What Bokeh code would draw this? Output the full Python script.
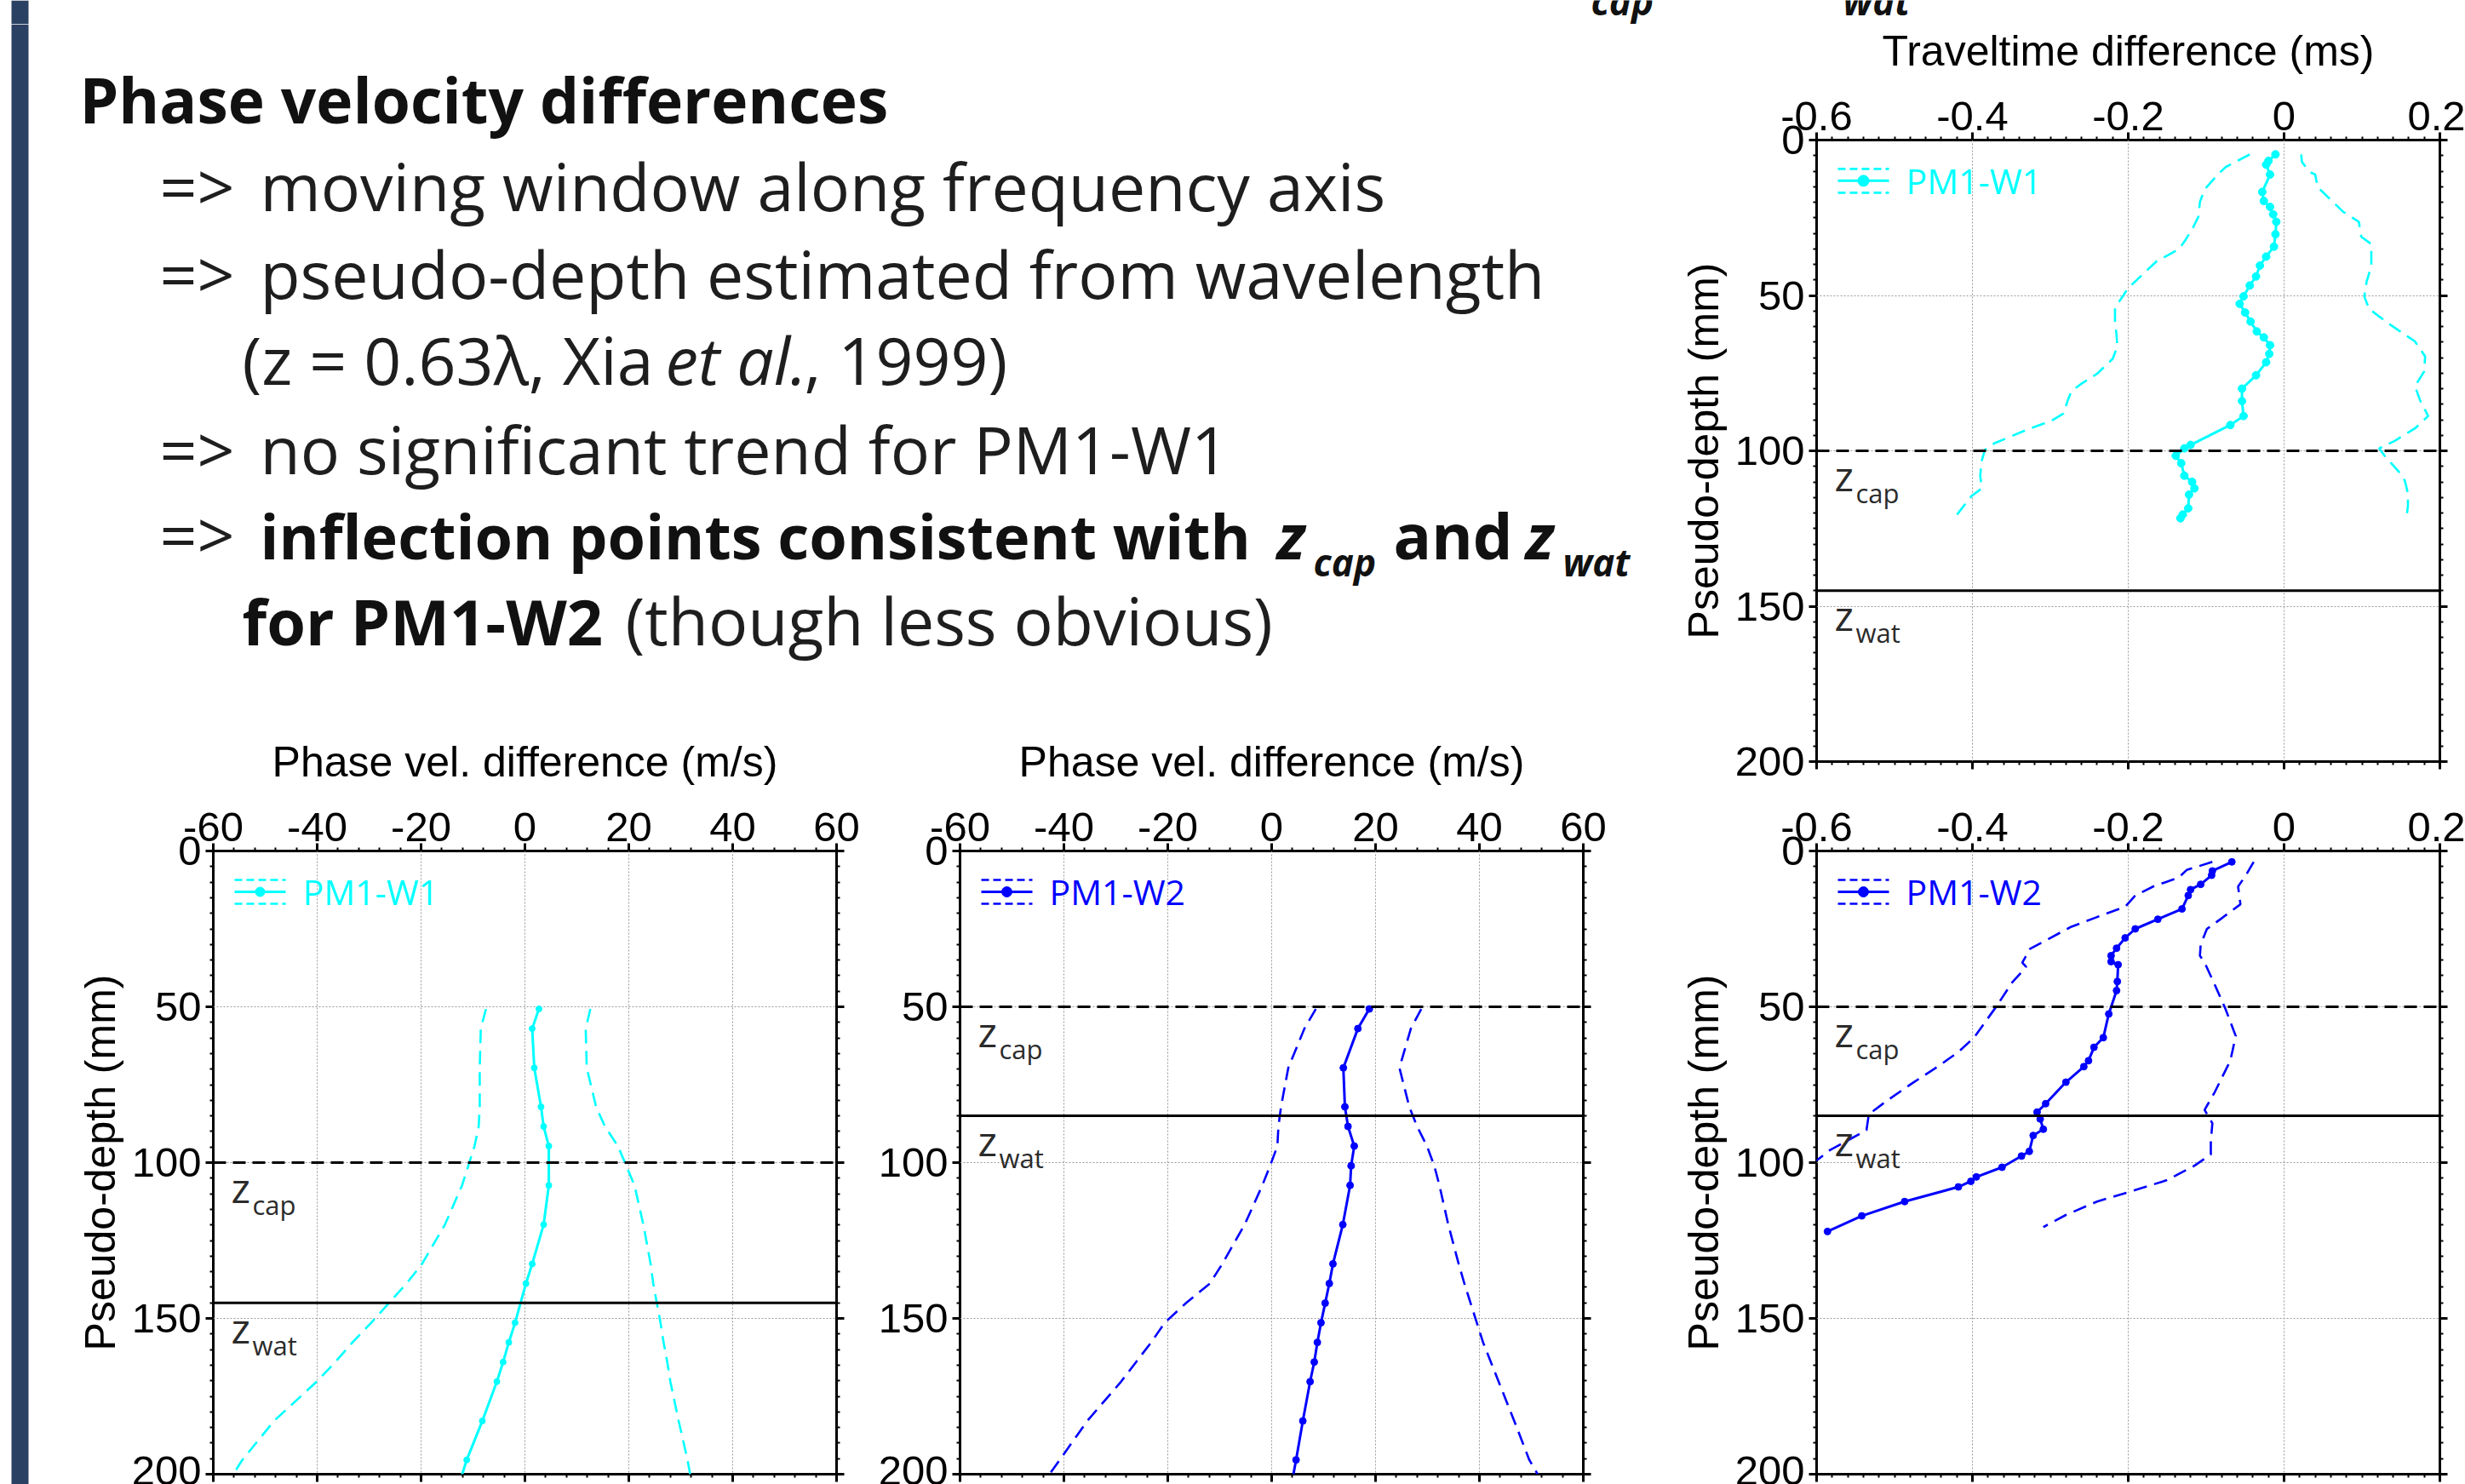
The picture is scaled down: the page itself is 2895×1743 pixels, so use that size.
import numpy as np
from bokeh.plotting import figure
from bokeh.models import Range1d, LinearAxis, FixedTicker, Label, Span
from bokeh.layouts import row, column
from bokeh.embed import file_html
from bokeh.resources import INLINE

# ---------------- data ----------------
# Phase velocity difference (m/s) versus pseudo-depth (mm)
pv_w1_depth = [50.7, 57.0, 69.6, 82.1, 88.4, 94.7, 107.3, 119.9, 132.5, 138.8, 151.4, 157.7, 164.0, 170.3, 182.9, 195.4, 201.7]
pv_w1_mean = [2.7, 1.4, 1.8, 3.1, 3.6, 4.6, 4.6, 3.6, 1.4, 0.2, -1.9, -3.1, -4.2, -5.4, -8.2, -11.2, -12.4]
pv_w1_low = [-7.5, -8.5, -8.7, -8.7, -8.9, -9.7, -12.1, -15.4, -19.8, -22.8, -29.6, -33.2, -36.5, -40.1, -48.3, -54.4, -56.8]
pv_w1_high = [12.6, 11.7, 11.9, 13.7, 15.4, 17.9, 21.1, 22.8, 24.2, 24.7, 26.1, 26.7, 27.4, 28.0, 29.6, 31.3, 32.0]

pv_w2_depth = [50.7, 57.0, 69.6, 82.1, 88.4, 94.7, 101.0, 107.3, 119.9, 132.5, 138.8, 145.1, 151.4, 157.7, 164.0, 170.3, 182.9, 195.4, 201.7]
pv_w2_mean = [18.8, 16.6, 13.8, 14.1, 14.7, 15.9, 15.3, 15.1, 13.7, 11.8, 11.1, 10.3, 9.5, 8.8, 8.2, 7.4, 6.0, 4.7, 4.0]
pv_w2_low = [8.5, 6.3, 3.2, 1.8, 1.3, 1.1, -0.3, -1.8, -5.2, -9.5, -11.9, -16.5, -20.6, -23.2, -26.1, -29.0, -35.5, -40.8, -43.5]
pv_w2_high = [28.8, 26.8, 24.6, 26.5, 28.0, 29.9, 31.3, 32.3, 34.0, 36.0, 37.1, 38.3, 39.5, 40.7, 42.2, 43.7, 46.7, 49.6, 51.8]

# Traveltime difference (ms) versus pseudo-depth (mm)
tt_w1_mean_depth = [4.6, 6.7, 7.9, 11.1, 16.7, 19.6, 21.5, 23.9, 26.3, 30.3, 34.3, 37.5, 40.4, 43.9, 46.8, 50.3, 52.7, 55.5, 58.4, 61.6,
                    63.5, 66.0, 68.8, 71.5, 75.7, 80.0, 84.0, 88.8, 91.7, 98.1, 99.2, 101.6, 104.0, 108.0, 110.0, 112.1, 114.1, 118.5, 120.5, 121.7]
tt_w1_mean = [-0.011, -0.020, -0.023, -0.018, -0.028, -0.026, -0.018, -0.014, -0.010, -0.011, -0.013, -0.023, -0.031, -0.036, -0.044,
              -0.052, -0.057, -0.050, -0.043, -0.035, -0.026, -0.018, -0.019, -0.023, -0.036, -0.054, -0.054, -0.052, -0.069, -0.120,
              -0.128, -0.139, -0.132, -0.128, -0.118, -0.115, -0.122, -0.123, -0.130, -0.133]
tt_w1_low_depth = [4.6, 8.7, 11.1, 15.9, 19.9, 24.7, 28.7, 32.7, 35.1, 39.1, 43.1, 47.9, 50.3, 53.9, 58.4, 62.8, 66.4, 70.4, 75.2, 78.4,
                   80.8, 84.0, 88.0, 90.4, 92.8, 95.5, 97.6, 99.7, 103.2, 108.0, 112.1, 114.5, 117.7, 120.9, 121.7]
tt_w1_low = [-0.044, -0.075, -0.085, -0.102, -0.108, -0.110, -0.118, -0.128, -0.135, -0.164, -0.181, -0.201, -0.207, -0.217, -0.217,
             -0.215, -0.214, -0.220, -0.240, -0.260, -0.273, -0.278, -0.283, -0.299, -0.326, -0.352, -0.372, -0.384, -0.388, -0.390,
             -0.388, -0.401, -0.411, -0.421, -0.425]
tt_w1_high_depth = [4.6, 7.1, 10.3, 11.1, 15.1, 18.3, 23.1, 26.3, 31.1, 33.5, 37.5, 40.7, 45.5, 50.3, 54.3, 59.2, 64.8, 69.6, 74.4, 79.2,
                    84.0, 88.8, 92.8, 96.8, 99.2, 101.6, 107.2, 109.6, 113.7, 117.7, 121.7]
tt_w1_high = [0.022, 0.023, 0.033, 0.040, 0.043, 0.056, 0.076, 0.096, 0.099, 0.112, 0.112, 0.112, 0.106, 0.103, 0.109, 0.135, 0.168,
              0.181, 0.180, 0.168, 0.175, 0.185, 0.168, 0.142, 0.122, 0.129, 0.149, 0.155, 0.159, 0.159, 0.157]

tt_w2_mean_depth = [3.5, 6.4, 7.8, 10.7, 12.4, 14.3, 18.6, 21.9, 25.0, 27.9, 31.2, 33.6, 35.5, 36.5, 41.9, 44.8, 52.3, 59.9, 63.0, 67.3,
                    69.2, 74.2, 81.1, 83.8, 86.0, 89.3, 91.3, 96.4, 97.9, 101.5, 104.6, 106.0, 107.8, 112.5, 117.1, 122.1]
tt_w2_mean = [-0.067, -0.092, -0.093, -0.107, -0.120, -0.123, -0.131, -0.162, -0.191, -0.204, -0.215, -0.222, -0.222, -0.213, -0.214,
              -0.215, -0.225, -0.232, -0.244, -0.251, -0.257, -0.280, -0.306, -0.317, -0.313, -0.309, -0.322, -0.327, -0.337, -0.362,
              -0.395, -0.402, -0.418, -0.487, -0.542, -0.586]
tt_w2_low_depth = [3.5, 6.1, 8.5, 11.4, 14.3, 17.9, 21.2, 24.3, 31.4, 35.8, 37.2, 42.2, 49.8, 59.9, 64.5, 69.1, 74.5, 80.2, 84.5, 89.6, 96.0, 100.3]
tt_w2_low = [-0.092, -0.125, -0.135, -0.168, -0.191, -0.204, -0.240, -0.273, -0.326, -0.336, -0.331, -0.349, -0.369, -0.398, -0.418,
             -0.444, -0.477, -0.510, -0.533, -0.536, -0.583, -0.605]
tt_w2_high_depth = [3.5, 7.8, 11.4, 17.1, 21.4, 25.0, 30.0, 33.6, 35.8, 42.9, 50.8, 59.4, 67.3, 77.4, 83.1, 87.4, 93.1, 97.4, 101.0,
                    105.7, 109.6, 112.5, 116.8, 120.7]
tt_w2_high = [-0.039, -0.049, -0.059, -0.056, -0.079, -0.099, -0.107, -0.108, -0.102, -0.089, -0.075, -0.062, -0.069, -0.089, -0.102,
              -0.092, -0.094, -0.094, -0.115, -0.151, -0.201, -0.240, -0.280, -0.309]

# interface depths (mm)
w1_zcap, w1_zwat = 100, 145
w2_zcap, w2_zwat = 50, 85

# ticks
pv_ticks = [-60, -40, -20, 0, 20, 40, 60]
pv_tick_labels = ["-60", "-40", "-20", "0", "20", "40", "60"]
tt_ticks = [-0.6, -0.4, -0.2, 0, 0.2]
tt_tick_labels = ["-0.6", "-0.4", "-0.2", "0", "0.2"]
depth_ticks = [0, 50, 100, 150, 200]
depth_tick_labels = ["0", "50", "100", "150", "200"]

series_names = ["PM1-W1", "PM1-W2"]
series_colors = ["#00FFFF", "#0000FF"]

# ---------------- styling / layout constants (page pixels) ----------------
FRAME = 732
PAGE_W, PAGE_H = 2895, 1743
STRIP_H = 28
TXT_COLOR = "#1e1e1e"
HEAD = "#111111"
NAVY = "#2B4163"
AX_FONT = "Liberation Sans"
TXT_FONT = "Open Sans"
LIFT = 0.37   # labels are drawn ~0.37 em below the requested baseline; compensate


def style_axis(ax, ticks, labels, minor, show_labels=True, tick_out=9, minor_out=4):
    ax.ticker = FixedTicker(ticks=ticks, minor_ticks=minor)
    ax.axis_line_color = None
    ax.major_tick_out = tick_out
    ax.major_tick_in = 0
    ax.minor_tick_out = minor_out
    ax.minor_tick_in = 0
    ax.major_tick_line_width = 3
    ax.minor_tick_line_width = 2
    ax.major_tick_line_color = "black"
    ax.minor_tick_line_color = "black"
    if show_labels:
        ax.major_label_overrides = {t: l for t, l in zip(ticks, labels)}
        ax.major_label_text_font = AX_FONT
        ax.major_label_text_font_size = "49px"
        ax.major_label_text_color = "black"
    else:
        ax.major_label_overrides = {t: "" for t in ticks}
        ax.major_label_text_font_size = "1px"
        ax.major_label_standoff = 0
    ax.axis_label_text_font = AX_FONT
    ax.axis_label_text_font_size = "50px"
    ax.axis_label_text_font_style = "normal"
    ax.axis_label_text_color = "black"


def depth_fig(width, height, left, right, top, bottom, x_ticks, x_labels, x_minor_step, x_title, y_title):
    x0, x1 = x_ticks[0], x_ticks[-1]
    p = figure(width=width, height=height, x_range=Range1d(x0, x1), y_range=Range1d(200, 0),
               x_axis_location="above", output_backend="svg", toolbar_location=None,
               min_border_left=left, min_border_right=right, min_border_top=top, min_border_bottom=bottom)
    p.outline_line_color = "black"
    p.outline_line_width = 3
    n_x = int(round((x1 - x0) / x_minor_step))
    x_minor = list(np.linspace(x0, x1, n_x + 1))
    y_minor = list(np.linspace(0, 200, 41))
    top_ax = p.above[0]
    style_axis(top_ax, x_ticks, x_labels, x_minor)
    top_ax.major_label_standoff = 3
    if x_title:
        top_ax.axis_label = x_title
        top_ax.axis_label_standoff = 29
    left_ax = p.left[0]
    style_axis(left_ax, depth_ticks, depth_tick_labels, y_minor)
    left_ax.major_label_standoff = 5
    if y_title:
        left_ax.axis_label = y_title
        left_ax.axis_label_standoff = 6
    right_ax = LinearAxis()
    style_axis(right_ax, depth_ticks, depth_tick_labels, y_minor, show_labels=False)
    p.add_layout(right_ax, "right")
    below_ax = LinearAxis()
    style_axis(below_ax, x_ticks, x_labels, x_minor, show_labels=False)
    p.add_layout(below_ax, "below")
    p.xgrid.ticker = FixedTicker(ticks=x_ticks)
    p.ygrid.ticker = FixedTicker(ticks=depth_ticks)
    p.grid.grid_line_color = "#9a9a9a"
    p.grid.grid_line_dash = "2 2"
    p.grid.grid_line_width = 1
    return p


def add_series(p, d_mean, v_mean, d_low, v_low, d_high, v_high, color, dot):
    p.line(v_low, d_low, line_color=color, line_width=2.6, line_dash="16 9")
    p.line(v_high, d_high, line_color=color, line_width=2.6, line_dash="16 9")
    p.line(v_mean, d_mean, line_color=color, line_width=3)
    p.scatter(v_mean, d_mean, size=dot, color=color)


def add_interfaces(p, zcap, zwat):
    p.add_layout(Span(location=zcap, dimension="width", line_color="black", line_width=3, line_dash="15 8"))
    p.add_layout(Span(location=zwat, dimension="width", line_color="black", line_width=3))
    x0 = p.x_range.start
    sx = (p.x_range.end - p.x_range.start) / FRAME
    sy = 200.0 / FRAME
    for z, sub in ((zcap, "cap"), (zwat, "wat")):
        p.add_layout(Label(x=x0 + 21 * sx, y=z + (47 - LIFT * 48) * sy, text="z", text_font=TXT_FONT,
                           text_font_size="48px", text_color="#2b2b2b", text_baseline="alphabetic", text_align="left"))
        p.add_layout(Label(x=x0 + 46 * sx, y=z + (61 - LIFT * 31) * sy, text=sub, text_font=TXT_FONT,
                           text_font_size="31px", text_color="#2b2b2b", text_baseline="alphabetic", text_align="left"))


def add_legend(p, name, color, dot):
    x0 = p.x_range.start
    sx = (p.x_range.end - p.x_range.start) / FRAME
    sy = 200.0 / FRAME
    xa, xb, xm = x0 + 25 * sx, x0 + 85 * sx, x0 + 55 * sx
    yc, dy = 48 * sy, 14 * sy
    p.line([xa, xb], [yc - dy, yc - dy], line_color=color, line_width=2.6, line_dash="9 5")
    p.line([xa, xb], [yc + dy, yc + dy], line_color=color, line_width=2.6, line_dash="9 5")
    p.line([xa, xb], [yc, yc], line_color=color, line_width=3)
    p.scatter([xm], [yc], size=dot + 4, color=color)
    p.add_layout(Label(x=x0 + 105 * sx, y=yc + (15 - LIFT * 41) * sy, text=name, text_font=TXT_FONT,
                       text_font_size="41px", text_color=color, text_baseline="alphabetic", text_align="left"))


def canvas(x0, x1, y0, y1):
    p = figure(width=x1 - x0, height=y1 - y0, x_range=Range1d(x0, x1), y_range=Range1d(y1, y0),
               x_axis_type=None, y_axis_type=None, output_backend="svg", toolbar_location=None, min_border=0)
    p.outline_line_color = None
    return p


def put(p, X, Y, text, size, style="normal", color=TXT_COLOR, font=TXT_FONT):
    p.add_layout(Label(x=X, y=Y - LIFT * size, text=text, text_font=font, text_font_size=f"{size}px",
                       text_font_style=style, text_color=color, text_baseline="alphabetic", text_align="left"))


# ---------------- top strip: bar piece + cut-off subscripts of the slide title ----------------
strip = canvas(0, PAGE_W, 0, STRIP_H)
strip.quad(left=[13], right=[33], bottom=[STRIP_H], top=[0], fill_color=NAVY, line_color=None)
SUB = 44
put(strip, 1868, 17, "cap", SUB, "bold italic", HEAD)
put(strip, 2164, 17, "wat", SUB, "bold italic", HEAD)

# ---------------- left navy bar ----------------
bar = canvas(0, 40, STRIP_H, PAGE_H)
bar.quad(left=[13], right=[33], bottom=[PAGE_H], top=[STRIP_H], fill_color=NAVY, line_color=None)

# ---------------- text block ----------------
TXT_BOTTOM = 859
txt = canvas(40, 1960, STRIP_H, TXT_BOTTOM)
REG, BOLD = 77, 74
put(txt, 93, 143, "Phase velocity differences", 73, "bold", HEAD)
put(txt, 187, 246, "=>", REG)
put(txt, 305, 246, "moving window along frequency axis", REG)
put(txt, 187, 349, "=>", REG)
put(txt, 305, 349, "pseudo-depth estimated from wavelength", REG)
put(txt, 284, 450, "(z = 0.63\u03bb, Xia", REG)
put(txt, 781, 450, "et al.", REG, "italic")
put(txt, 944, 450, ", 1999)", REG)
put(txt, 187, 555, "=>", REG)
put(txt, 305, 555, "no significant trend for PM1-W1", REG)
put(txt, 187, 655, "=>", REG)
put(txt, 305, 655, "inflection points consistent with", 72, "bold", HEAD)
put(txt, 1499, 655, "z", BOLD, "bold italic", HEAD)
put(txt, 1542, 676, "cap", SUB, "bold italic", HEAD)
put(txt, 1636, 655, "and", BOLD, "bold", HEAD)
put(txt, 1791, 655, "z", BOLD, "bold italic", HEAD)
put(txt, 1835, 676, "wat", SUB, "bold italic", HEAD)
put(txt, 284, 756, "for PM1-W2", BOLD, "bold", HEAD)
put(txt, 734, 756, "(though less obvious)", REG)

# ---------------- plots ----------------
BOT_H = PAGE_H - TXT_BOTTOM          # frame 999..1731
bl = depth_fig(977, BOT_H, 210, 35, 140, 12, pv_ticks, pv_tick_labels, 4,
               "Phase vel. difference (m/s)", "Pseudo-depth (mm)")
add_series(bl, pv_w1_depth, pv_w1_mean, pv_w1_depth, pv_w1_low, pv_w1_depth, pv_w1_high, series_colors[0], 7)
add_interfaces(bl, w1_zcap, w1_zwat)
add_legend(bl, series_names[0], series_colors[0], 7)

bm = depth_fig(943, BOT_H, 110, 101, 140, 12, pv_ticks, pv_tick_labels, 4,
               "Phase vel. difference (m/s)", "")
add_series(bm, pv_w2_depth, pv_w2_mean, pv_w2_depth, pv_w2_low, pv_w2_depth, pv_w2_high, series_colors[1], 8)
add_interfaces(bm, w2_zcap, w2_zwat)
add_legend(bm, series_names[1], series_colors[1], 8)

TR_H = 930 - STRIP_H                 # frame 162..894
tr = depth_fig(935, TR_H, 173, 30, 134, 36, tt_ticks, tt_tick_labels, 0.02,
               "Traveltime difference (ms)", "Pseudo-depth (mm)")
add_series(tr, tt_w1_mean_depth, tt_w1_mean, tt_w1_low_depth, tt_w1_low, tt_w1_high_depth, tt_w1_high, series_colors[0], 9)
add_interfaces(tr, w1_zcap, w1_zwat)
add_legend(tr, series_names[0], series_colors[0], 9)

br = depth_fig(935, PAGE_H - 930, 173, 30, 69, 12, tt_ticks, tt_tick_labels, 0.02, "", "Pseudo-depth (mm)")
add_series(br, tt_w2_mean_depth, tt_w2_mean, tt_w2_low_depth, tt_w2_low, tt_w2_high_depth, tt_w2_high, series_colors[1], 8)
add_interfaces(br, w2_zcap, w2_zwat)
add_legend(br, series_names[1], series_colors[1], 8)

layout = column(strip, row(bar, column(txt, row(bl, bm)), column(tr, br)))

open("out.html", "w").write(file_html(layout, INLINE))
